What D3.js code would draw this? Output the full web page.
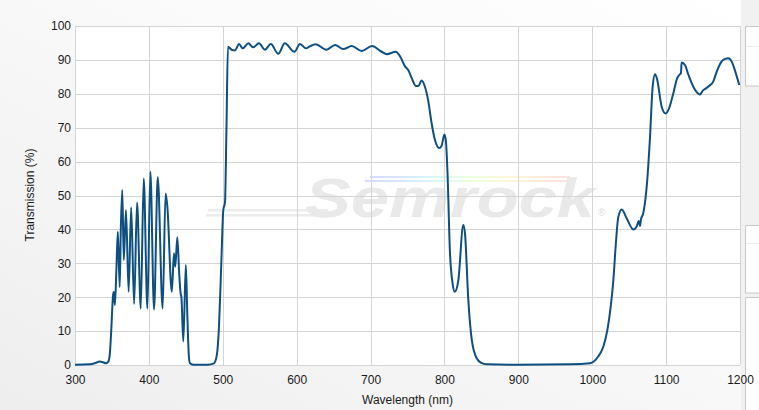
<!DOCTYPE html>
<html>
<head>
<meta charset="utf-8">
<script src="https://cdn.jsdelivr.net/npm/d3@7"></script>
<style>
  html, body { margin: 0; padding: 0; background: #fff; }
  svg { display: block; font-family: "Liberation Sans", Arial, sans-serif; }
</style>
</head>
<body>
<svg id="chart" width="759" height="410"></svg>
<script>
// ---- data ----
const wavelength = [300,320,328,333,338,342,345,347,349,351,352,353,354,356,358,360.5,362,364,366,369,372.6,376,380,384,389,393,398,402,407,412,418.6,422.6,425,431,434,435.7,438.5,441,443,444,446.6,450,452,454,455.6,460,480,488,492,495,498,500.7,503,505,507,
  512,516.5,522,527,534.6,541,549,557,565,575,584,597,604.5,612.6,618,625.7,640.5,652,663,674.5,688,702,715,722,734,740.8,746.6,751,755.6,761.5,764.6,769,773.7,778,782.8,787,793,796,800,802,804,807.5,811,814,818.8,825.5,827.8,832.3,837,843.6,850,857,900,970,997,1008,1015,1020.5,1025,1028.6,1031.7,1035.3,1040,1046.6,1055.6,1060,1063,1064.6,1066,1069,1074.5,1078,1081.8,1085,1088,1094,1099.4,1104,1109.7,1115,1118.8,1120,1121,1125.5,1130,1136.8,1145.8,1150,1154,1158,1163.8,1168.4,1175,1180,1184,1188.8,1193,1199];
const transmission = [0.1,0.2,0.6,1.0,0.8,0.5,1.0,3,10,19,21.5,21,17.7,28,39.3,23,40,51.6,31,45.7,21.6,46.5,18,47.9,16.7,55,16.7,57,16.4,55.4,16.7,50.6,46.7,21.6,33,29,37.7,27,21,20,6.9,29.5,15,3,0.5,0.1,0.1,0.5,3,12,30,45.7,48,70,93.9,
  93,92.8,94.7,93.4,94.9,93.7,94.9,93,94.7,91.8,94.9,92.4,94.7,93.4,94,94.6,93,94.4,93.2,94.1,92.6,94.1,92.4,91.7,92.4,90.7,88.1,87,84.7,82.3,82.3,83.9,82,78,71.1,66.5,64,64.6,68,66,57.5,33,24.1,21.6,25,41.3,38.8,19.2,7.4,2,0.6,0.2,0.1,0.2,0.5,2.5,5.4,10.3,17.2,25,34.9,43.7,45.9,43.3,40,40.8,42.5,41,43,44.7,54.6,66.4,82.1,85.8,84.1,76.2,74.2,75.7,80.1,84.6,85.8,86,89.2,88.5,85.7,82.1,79.8,81,81.6,82.3,83.6,86.5,89.5,90.3,90.5,89.5,87,82.6];
const xTicks = [300,400,500,600,700,800,900,1000,1100,1200];
const yTicks = [0,10,20,30,40,50,60,70,80,90,100];

// ---- layout ----
const svg = d3.select("#chart");
const W = 759, H = 410;
const m = {left: 75, right: 740, top: 26, bottom: 365};

const defs = svg.append("defs");
const bg = defs.append("linearGradient").attr("id","bg").attr("x1","0").attr("y1","1").attr("x2","1").attr("y2","0");
bg.append("stop").attr("offset","0").attr("stop-color","#eeeeee");
bg.append("stop").attr("offset","0.6").attr("stop-color","#fafafa");
bg.append("stop").attr("offset","1").attr("stop-color","#ffffff");
const rb = defs.append("linearGradient").attr("id","rainbow").attr("x1","0").attr("x2","1");
[["#d8d8ff",0],["#d8f4ff",0.3],["#e8ffe0",0.5],["#fff6d8",0.7],["#ffe0e0",1]].forEach(([c,o]) =>
  rb.append("stop").attr("offset",o).attr("stop-color",c));

svg.append("rect").attr("width",W).attr("height",H).attr("fill","url(#bg)");

// right side panels
svg.append("rect").attr("x",741).attr("y",0).attr("width",18).attr("height",H).attr("fill","#f1f1f1");
[[26.5,86],[225.5,293],[297.5,420]].forEach(([y0,y1]) => {
  svg.append("rect").attr("x",745.5).attr("y",y0).attr("width",20).attr("height",y1-y0)
    .attr("fill","#ffffff").attr("stroke","#c8c8c8");
});
svg.append("line").attr("x1",746).attr("x2",759).attr("y1",46.5).attr("y2",46.5).attr("stroke","#eeeeee");
svg.append("line").attr("x1",746).attr("x2",759).attr("y1",243.5).attr("y2",243.5).attr("stroke","#eeeeee");

const x = d3.scaleLinear().domain([300,1200]).range([m.left, m.right]);
const y = d3.scaleLinear().domain([0,100]).range([m.bottom, m.top]);

svg.append("rect").attr("x",m.left).attr("y",m.top).attr("width",m.right-m.left).attr("height",m.bottom-m.top).attr("fill","#ffffff");

// watermark
const wm = svg.append("g");
wm.append("rect").attr("x",370).attr("y",176).attr("width",200).attr("height",2).attr("fill","url(#rainbow)");
wm.append("rect").attr("x",365).attr("y",180).attr("width",205).attr("height",2).attr("fill","url(#rainbow)");
wm.append("rect").attr("x",208).attr("y",209).attr("width",120).attr("height",2.5).attr("fill","#ececec");
wm.append("rect").attr("x",206).attr("y",214).attr("width",122).attr("height",2.5).attr("fill","#ececec");
wm.append("text").attr("x",305).attr("y",217).attr("font-size",56).attr("font-weight","bold")
  .attr("font-style","italic").attr("fill","#e9e9e9").attr("textLength",290).attr("lengthAdjust","spacingAndGlyphs").text("Semrock");
wm.append("text").attr("x",598).attr("y",216).attr("font-size",10).attr("fill","#e2e2e2").text("®");

// grid
const grid = svg.append("g").attr("stroke","#d4d4d4").attr("stroke-width",1);
yTicks.forEach(t => grid.append("line").attr("x1",m.left).attr("x2",m.right)
  .attr("y1",Math.round(y(t))+0.5).attr("y2",Math.round(y(t))+0.5));
xTicks.forEach(t => grid.append("line").attr("y1",m.top).attr("y2",m.bottom)
  .attr("x1",Math.round(x(t))+0.5).attr("x2",Math.round(x(t))+0.5));

// axes labels
const xAxis = d3.axisBottom(x).tickValues(xTicks).tickFormat(d3.format("d")).tickSize(0).tickPadding(10);
const gx = svg.append("g").attr("transform",`translate(0,${m.bottom})`).call(xAxis);
gx.select(".domain").remove();
gx.selectAll("text").attr("font-size",12).attr("fill","#1a1a1a").attr("font-family","Liberation Sans, Arial, sans-serif");

const yAxis = d3.axisLeft(y).tickValues(yTicks).tickFormat(d3.format("d")).tickSize(0).tickPadding(4);
const gy = svg.append("g").attr("transform",`translate(${m.left},0)`).call(yAxis);
gy.select(".domain").remove();
gy.selectAll("text").attr("font-size",12).attr("fill","#1a1a1a").attr("font-family","Liberation Sans, Arial, sans-serif");

svg.append("text").attr("x",(m.left+m.right)/2).attr("y",404).attr("text-anchor","middle")
  .attr("font-size",12).attr("fill","#1a1a1a").text("Wavelength (nm)");
svg.append("text").attr("transform","translate(34,195) rotate(-90)").attr("text-anchor","middle")
  .attr("font-size",12).attr("fill","#1a1a1a").text("Transmission (%)");

// curve
const data = wavelength.map((w,i) => [w, transmission[i]]);
const line = d3.line().x(d => x(d[0])).y(d => y(d[1])).curve(d3.curveMonotoneX);
svg.append("path").datum(data).attr("d",line).attr("fill","none")
  .attr("stroke","#0d4f81").attr("stroke-width",2).attr("stroke-linejoin","round");
</script>
</body>
</html>
